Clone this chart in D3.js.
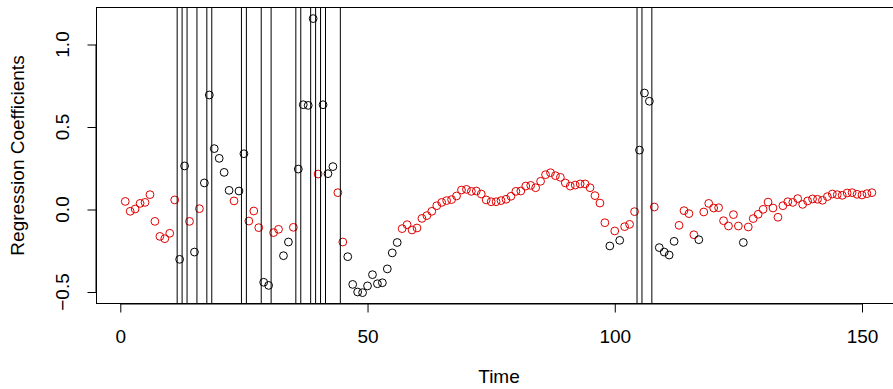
<!DOCTYPE html>
<html>
<head>
<meta charset="utf-8">
<script src="https://cdn.jsdelivr.net/npm/d3@7"></script>
<style>
  body { margin: 0; background: #fff; }
  svg text { font-family: "Liberation Sans", Arial, sans-serif; fill: #000; }
</style>
</head>
<body>
<div id="chart"></div>
<script>
// Hệ số hồi quy theo thời gian (t = 1..152)
const coefficients = [
  0.049, -0.011, 0.003, 0.037, 0.043, 0.090, -0.072, -0.163, -0.177, -0.144,
  0.058, -0.302, 0.264, -0.072, -0.258, 0.005, 0.161, 0.694, 0.369, 0.310,
  0.225, 0.116, 0.052, 0.112, 0.338, -0.070, -0.009, -0.110, -0.441, -0.460,
  -0.140, -0.120, -0.280, -0.197, -0.108, 0.245, 0.635, 0.631, 1.157, 0.215,
  0.635, 0.217, 0.260, 0.102, -0.197, -0.286, -0.454, -0.500, -0.504, -0.463,
  -0.395, -0.450, -0.444, -0.360, -0.263, -0.200, -0.116, -0.092, -0.124, -0.112,
  -0.054, -0.037, -0.011, 0.023, 0.043, 0.054, 0.060, 0.082, 0.118, 0.122,
  0.110, 0.112, 0.094, 0.058, 0.047, 0.047, 0.054, 0.062, 0.080, 0.110,
  0.112, 0.142, 0.146, 0.132, 0.171, 0.211, 0.223, 0.205, 0.195, 0.161,
  0.142, 0.148, 0.155, 0.155, 0.132, 0.084, 0.039, -0.080, -0.221, -0.130,
  -0.187, -0.104, -0.090, -0.013, 0.360, 0.706, 0.656, 0.015, -0.231, -0.258,
  -0.276, -0.193, -0.096, -0.007, -0.025, -0.153, -0.183, -0.015, 0.037, 0.009,
  0.011, -0.068, -0.100, -0.031, -0.100, -0.200, -0.106, -0.055, -0.029, 0.001,
  0.045, 0.009, -0.047, 0.023, 0.047, 0.043, 0.066, 0.031, 0.052, 0.064,
  0.062, 0.056, 0.078, 0.094, 0.090, 0.086, 0.100, 0.102, 0.092, 0.088,
  0.096, 0.102
];

// Các thời điểm có điểm màu đen (còn lại là đỏ)
const blackTimes = [
  12, 13, 15, 17, 18, 19, 20, 21, 22, 24, 25, 29, 30, 33, 34, 36, 37, 38, 39,
  41, 42, 43, 46, 47, 48, 49, 50, 51, 52, 53, 54, 55, 56,
  99, 101, 105, 106, 107, 109, 110, 111, 112, 117, 126
];

// Các đường thẳng đứng
const breakLines = [
  11.5, 12.5, 13.5, 15.5, 17.5, 18.5, 24.5, 25.5, 28.5, 30.5,
  35.5, 36.5, 38.5, 39.5, 40.5, 41.5, 44.5, 104.5, 105.5, 107.5
];

const xTicks = [0, 50, 100, 150];
const yTicks = [-0.5, 0.0, 0.5, 1.0];

const width = 893;
const height = 389;
const fontSize = 19;

const svg = d3.select("#chart")
  .append("svg")
  .attr("width", width)
  .attr("height", height);

const x = d3.scaleLinear().domain([0, 150]).range([120.3, 862]);
const y = d3.scaleLinear().domain([-0.5, 1.0]).range([292, 44.5]);

// Khung vẽ (phía phải vượt ra ngoài ảnh, giống ảnh gốc bị cắt)
const box = { left: 96.5, right: x(158), top: 7.5, bottom: 303.5 };

const data = coefficients.map((v, i) => ({
  t: i + 1,
  value: v,
  black: blackTimes.includes(i + 1)
}));

// Điểm
svg.append("g")
  .selectAll("circle")
  .data(data)
  .enter()
  .append("circle")
  .attr("cx", d => x(d.t))
  .attr("cy", d => y(d.value))
  .attr("r", 3.9)
  .attr("fill", "none")
  .attr("stroke", d => d.black ? "#000" : "#e00000")
  .attr("stroke-width", 1);

// Đường thẳng đứng
svg.append("g")
  .selectAll("line")
  .data(breakLines)
  .enter()
  .append("line")
  .attr("x1", d => x(d))
  .attr("x2", d => x(d))
  .attr("y1", box.top)
  .attr("y2", box.bottom)
  .attr("stroke", "#000")
  .attr("stroke-width", 1);

// Khung
svg.append("rect")
  .attr("x", box.left)
  .attr("y", box.top)
  .attr("width", box.right - box.left)
  .attr("height", box.bottom - box.top)
  .attr("fill", "none")
  .attr("stroke", "#000")
  .attr("stroke-width", 1);

// Trục x
const xAxis = svg.append("g")
  .attr("transform", `translate(0, ${box.bottom})`)
  .call(d3.axisBottom(x).tickValues(xTicks).tickSize(9).tickFormat(d3.format("d")));
xAxis.select(".domain").attr("d", `M${x(0)},0.5H${x(150)}`);
xAxis.selectAll("text")
  .style("font-size", fontSize + "px")
  .attr("y", 39)
  .attr("dy", 0);

// Trục y
const yAxis = svg.append("g")
  .attr("transform", `translate(${box.left}, 0)`)
  .call(d3.axisLeft(y).tickValues(yTicks).tickSize(9).tickFormat(d3.format(".1f")));
yAxis.select(".domain").attr("d", `M-0.5,${y(-0.5)}V${y(1.0)}`);
yAxis.selectAll(".tick").attr("transform", null);
yAxis.selectAll(".tick line").attr("y1", d => y(d) + 0.5).attr("y2", d => y(d) + 0.5);
yAxis.selectAll("text")
  .style("font-size", fontSize + "px")
  .text(d => d3.format(".1f")(d).replace("-", "\u2212"))
  .attr("x", 0)
  .attr("y", 0)
  .attr("dy", 0)
  .attr("text-anchor", "middle")
  .attr("transform", d => `translate(-27.5, ${y(d)}) rotate(-90)`);

// Nhãn trục
svg.append("text")
  .attr("x", (box.left + box.right) / 2)
  .attr("y", 383)
  .attr("text-anchor", "middle")
  .style("font-size", fontSize + "px")
  .text("Time");

svg.append("text")
  .attr("transform", `translate(24, ${(box.top + box.bottom) / 2}) rotate(-90)`)
  .attr("text-anchor", "middle")
  .style("font-size", fontSize + "px")
  .text("Regression Coefficients");
</script>
</body>
</html>
